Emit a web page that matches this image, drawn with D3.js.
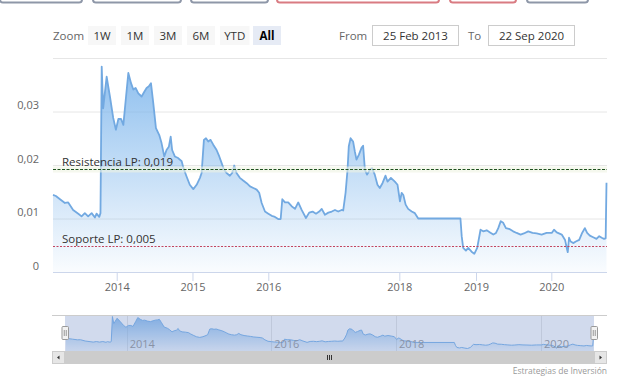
<!DOCTYPE html>
<html>
<head>
<meta charset="utf-8">
<script src="https://d3js.org/d3.v7.min.js"></script>
<style>
  body { margin: 0; background: #fff; }
  svg { display: block; font-family: "Open Sans", sans-serif; }
</style>
</head>
<body>
<svg id="chart" width="628" height="387"></svg>
<script>
'use strict';

/*
    price chart with navigator, support / resistance levels
*/

var dates = [
    '2013-02-25', '2013-03-11', '2013-03-31', '2013-04-24', '2013-05-10', '2013-06-03', '2013-06-28', '2013-07-14',
    '2013-07-30', '2013-08-15', '2013-09-01', '2013-09-17', '2013-09-25', '2013-10-08', '2013-10-14', '2013-10-20',
    '2013-10-27', '2013-11-13', '2013-11-29', '2013-12-15', '2013-12-28', '2014-01-09', '2014-01-22', '2014-02-02',
    '2014-02-15', '2014-02-26', '2014-03-11', '2014-03-22', '2014-04-02', '2014-04-15', '2014-05-01', '2014-05-14',
    '2014-05-25', '2014-06-05', '2014-06-15', '2014-06-26', '2014-07-09', '2014-07-25', '2014-08-05', '2014-08-18',
    '2014-08-29', '2014-09-09', '2014-09-18', '2014-09-25', '2014-10-08', '2014-10-24', '2014-11-10', '2014-11-18',
    '2014-12-03', '2014-12-19', '2015-01-05', '2015-01-21', '2015-02-06', '2015-02-14', '2015-02-25', '2015-03-07',
    '2015-03-18', '2015-03-29', '2015-04-11', '2015-04-27', '2015-05-10', '2015-05-21', '2015-06-01', '2015-06-14',
    '2015-06-30', '2015-07-11', '2015-07-21', '2015-08-01', '2015-08-17', '2015-09-02', '2015-09-19', '2015-10-05',
    '2015-10-21', '2015-11-06', '2015-11-18', '2015-11-30', '2015-12-16', '2016-01-01', '2016-01-20', '2016-02-07',
    '2016-02-25', '2016-03-10', '2016-03-19', '2016-04-03', '2016-04-21', '2016-05-10', '2016-05-29', '2016-06-16',
    '2016-07-05', '2016-07-29', '2016-08-16', '2016-09-04', '2016-09-23', '2016-10-11', '2016-10-25', '2016-11-12',
    '2016-12-01', '2016-12-20', '2017-01-07', '2017-01-25', '2017-02-13', '2017-02-22', '2017-03-07', '2017-03-18',
    '2017-03-25', '2017-04-04', '2017-04-18', '2017-04-28', '2017-05-07', '2017-05-20', '2017-06-04', '2017-06-13',
    '2017-06-23', '2017-07-05', '2017-07-21', '2017-08-02', '2017-08-17', '2017-09-01', '2017-09-14', '2017-09-29',
    '2017-10-16', '2017-10-27', '2017-11-15', '2017-12-07', '2017-12-22', '2018-01-04', '2018-01-12', '2018-01-20',
    '2018-01-31', '2018-02-12', '2018-03-01', '2018-03-16', '2018-04-01', '2018-10-19', '2018-10-25', '2018-11-01',
    '2018-11-14', '2018-11-25', '2018-12-11', '2018-12-24', '2019-01-07', '2019-01-23', '2019-02-05', '2019-02-22',
    '2019-03-10', '2019-03-26', '2019-04-08', '2019-04-19', '2019-05-01', '2019-05-13', '2019-05-26', '2019-06-14',
    '2019-06-30', '2019-07-17', '2019-08-05', '2019-08-21', '2019-09-11', '2019-10-02', '2019-10-22', '2019-11-15',
    '2019-12-09', '2020-01-03', '2020-01-14', '2020-01-27', '2020-02-20', '2020-03-07', '2020-03-15', '2020-03-20',
    '2020-03-26', '2020-04-03', '2020-04-15', '2020-04-28', '2020-05-14', '2020-05-28', '2020-06-10', '2020-06-21',
    '2020-07-04', '2020-07-20', '2020-08-05', '2020-08-18', '2020-08-30', '2020-09-10', '2020-09-18', '2020-09-22'
];

var prices = [
    0.0144, 0.0142, 0.0136, 0.0129, 0.0130, 0.0116, 0.0109, 0.0104,
    0.0110, 0.0104, 0.0110, 0.0102, 0.0109, 0.0103, 0.0110, 0.0384,
    0.0306, 0.0365, 0.0328, 0.0288, 0.0266, 0.0286, 0.0286, 0.0275,
    0.0328, 0.0372, 0.0353, 0.0341, 0.0344, 0.0334, 0.0328, 0.0337,
    0.0344, 0.0347, 0.0353, 0.0316, 0.0269, 0.0256, 0.0241, 0.0216,
    0.0228, 0.0234, 0.0253, 0.0228, 0.0216, 0.0213, 0.0207, 0.0195,
    0.0179, 0.0163, 0.0155, 0.0163, 0.0176, 0.0185, 0.0247, 0.0250,
    0.0244, 0.0247, 0.0238, 0.0228, 0.0216, 0.0204, 0.0192, 0.0185,
    0.0180, 0.0185, 0.0199, 0.0185, 0.0176, 0.0171, 0.0166, 0.0160,
    0.0157, 0.0154, 0.0148, 0.0129, 0.0113, 0.0109, 0.0105, 0.0103,
    0.0099, 0.0099, 0.0136, 0.0130, 0.0130, 0.0123, 0.0118, 0.0130,
    0.0116, 0.0101, 0.0111, 0.0113, 0.0109, 0.0113, 0.0118, 0.0107,
    0.0111, 0.0113, 0.0116, 0.0113, 0.0116, 0.0115, 0.0148, 0.0191,
    0.0235, 0.0250, 0.0244, 0.0225, 0.0210, 0.0219, 0.0232, 0.0236,
    0.0191, 0.0182, 0.0191, 0.0194, 0.0182, 0.0163, 0.0157, 0.0166,
    0.0180, 0.0169, 0.0176, 0.0169, 0.0163, 0.0132, 0.0148, 0.0144,
    0.0126, 0.0118, 0.0113, 0.0110, 0.0100, 0.0100, 0.0067, 0.0045,
    0.0040, 0.0045, 0.0038, 0.0034, 0.0045, 0.0079, 0.0076, 0.0078,
    0.0074, 0.0070, 0.0073, 0.0082, 0.0095, 0.0092, 0.0082, 0.0080,
    0.0076, 0.0073, 0.0070, 0.0072, 0.0076, 0.0073, 0.0072, 0.0070,
    0.0073, 0.0073, 0.0079, 0.0074, 0.0070, 0.0060, 0.0045, 0.0037,
    0.0064, 0.0057, 0.0054, 0.0057, 0.0060, 0.0073, 0.0082, 0.0073,
    0.0068, 0.0065, 0.0062, 0.0067, 0.0064, 0.0062, 0.0063, 0.0167
];

var yTicks = [0, 0.01, 0.02, 0.03, 0.04];
var xTickYears = [2014, 2015, 2016, 2018, 2019, 2020];
var navTickYears = [2014, 2016, 2018, 2020];
var zoomButtons = ['1W', '1M', '3M', '6M', 'YTD', 'All'];
var levelNames = ['Resistencia LP', 'Soporte LP'];
var levelValues = [0.0193, 0.0048];
var rangeFrom = '25 Feb 2013';
var rangeTo = '22 Sep 2020';
var creditText = 'Estrategias de Inversión';

var svg = d3.select('#chart');
var parseDate = d3.timeParse('%Y-%m-%d');
var esLocale = d3.formatLocale({ decimal: ',', thousands: '.', grouping: [3], currency: ['', ' €'] });
var fmtTick = esLocale.format('.2~f');
var fmtLevel = esLocale.format('.3f');

var data = dates.map(function(d, i) {
    return { date: parseDate(d), value: prices[i] };
});

// stock axis is ordinal: the missing stretch in 2016-2017 is squeezed, so use a piecewise time scale
var breaks = [data[0].date]
    .concat(xTickYears.map(function(yr) { return new Date(yr, 0, 1); }))
    .concat([data[data.length - 1].date]);
var breakFrac = [0, 0.1151, 0.2520, 0.3890, 0.6257, 0.7642, 0.9003, 1];

function pieceScale(x0, x1) {
    return d3.scaleTime()
        .domain(breaks)
        .range(breakFrac.map(function(f) { return x0 + f * (x1 - x0); }));
}

var plotL = 53, plotR = 606.5, plotB = 272, plotT = 58;
var x = pieceScale(plotL, plotR);
var y = d3.scaleLinear().domain([0, 0.04]).range([plotB, plotT]);

/* bits of the page buttons above the chart */
var topBits = [[0, 82, '#8e97a8'], [93, 181, '#8e97a8'], [191, 268, '#8e97a8'],
               [277, 439, '#d97b82'], [450, 516, '#d97b82'], [527, 588, '#8e97a8']];
svg.selectAll('rect.topbit').data(topBits).enter().append('rect')
    .attr('class', 'topbit')
    .attr('x', function(d) { return d[0]; })
    .attr('y', -6)
    .attr('width', function(d) { return d[1] - d[0]; })
    .attr('height', 8.5)
    .attr('rx', 3)
    .attr('fill', '#fff')
    .attr('stroke', function(d) { return d[2]; })
    .attr('stroke-width', 2);

/* range selector */
svg.append('text')
    .attr('x', 53).attr('y', 39.5)
    .attr('font-size', 11.5).attr('fill', '#666')
    .text('Zoom');

var btn = svg.selectAll('g.btn').data(zoomButtons).enter().append('g')
    .attr('class', 'btn')
    .attr('transform', function(d, i) { return 'translate(' + (88 + i * 33) + ',26)'; });
btn.append('rect')
    .attr('width', function(d) { return d === 'YTD' ? 29.5 : 28; })
    .attr('height', 19)
    .attr('fill', function(d) { return d === 'All' ? '#e6ebf5' : '#f7f7f7'; });
btn.append('text')
    .attr('x', function(d) { return d === 'YTD' ? 14.75 : 14; })
    .attr('y', 13.5)
    .attr('text-anchor', 'middle')
    .attr('font-size', 11.5)
    .attr('font-weight', function(d) { return d === 'All' ? 'bold' : 'normal'; })
    .attr('fill', function(d) { return d === 'All' ? '#000' : '#333'; })
    .text(function(d) { return d; });

svg.append('text').attr('x', 339).attr('y', 39.5)
    .attr('font-size', 11.5).attr('fill', '#666').text('From');
svg.append('text').attr('x', 468).attr('y', 39.5)
    .attr('font-size', 11.5).attr('fill', '#666').text('To');
[[372.5, rangeFrom], [488.5, rangeTo]].forEach(function(b) {
    svg.append('rect')
        .attr('x', b[0]).attr('y', 25.5).attr('width', 86).attr('height', 20)
        .attr('fill', '#fff').attr('stroke', '#cccccc');
    svg.append('text')
        .attr('x', b[0] + 43).attr('y', 39.5)
        .attr('text-anchor', 'middle').attr('font-size', 11.5).attr('fill', '#333')
        .text(b[1]);
});

/* y grid + labels */
var yAxis = d3.axisLeft(y)
    .tickValues(yTicks)
    .tickSize(-(607 - plotL))
    .tickPadding(14)
    .tickFormat(function(d) { return d === 0.04 ? '' : fmtTick(d); });
var gy = svg.append('g').attr('transform', 'translate(' + plotL + ',0)').call(yAxis);
gy.select('.domain').remove();
gy.selectAll('line').attr('stroke', '#e6e6e6');
gy.selectAll('text')
    .attr('dy', -3)
    .attr('fill', '#666')
    .attr('font-size', 11)
    .attr('font-family', '"Open Sans", sans-serif');

/* series */
var defs = svg.append('defs');
var grad = defs.append('linearGradient')
    .attr('id', 'fillMain')
    .attr('gradientUnits', 'userSpaceOnUse')
    .attr('x1', 0).attr('x2', 0).attr('y1', plotT).attr('y2', plotB);
grad.append('stop').attr('offset', 0).attr('stop-color', '#7cb5ec').attr('stop-opacity', 0.9);
grad.append('stop').attr('offset', 1).attr('stop-color', '#7cb5ec').attr('stop-opacity', 0.04);

var area = d3.area()
    .x(function(d) { return x(d.date); })
    .y0(plotB)
    .y1(function(d) { return y(d.value); });
var line = d3.line()
    .x(function(d) { return x(d.date); })
    .y(function(d) { return y(d.value); });

svg.append('path').datum(data).attr('d', area).attr('fill', 'url(#fillMain)');
svg.append('path').datum(data).attr('d', line)
    .attr('fill', 'none').attr('stroke', '#72a9e1').attr('stroke-width', 1.8)
    .attr('stroke-linejoin', 'round');

/* support / resistance */
var levelColors = ['#1f521f', '#c2445f'];
levelValues.forEach(function(v, i) {
    var ly = Math.round(y(v)) + 0.5;
    if (i === 0) {
        svg.append('rect').attr('x', plotL).attr('y', ly - 3).attr('width', 607 - plotL).attr('height', 6)
            .attr('fill', '#eef4e2').attr('opacity', 0.6);
    }
    svg.append('line')
        .attr('x1', plotL).attr('x2', 607).attr('y1', ly).attr('y2', ly)
        .attr('stroke', levelColors[i]).attr('stroke-width', 1)
        .attr('stroke-dasharray', i === 0 ? '3,1.5' : '2,1.5');
    svg.append('text')
        .attr('x', 62).attr('y', ly - 3.5)
        .attr('font-size', 11.5).attr('fill', '#333')
        .text(levelNames[i] + ': ' + fmtLevel(v));
});

/* x axis */
var xAxis = d3.axisBottom(x)
    .tickValues(xTickYears.map(function(yr) { return new Date(yr, 0, 1); }))
    .tickFormat(d3.timeFormat('%Y'))
    .tickSizeInner(9)
    .tickSizeOuter(0);
var gx = svg.append('g').attr('transform', 'translate(0,' + plotB + ')').call(xAxis);
gx.select('.domain').remove();
gx.selectAll('line').attr('stroke', '#ccd6eb');
gx.selectAll('text')
    .attr('y', 19).attr('dy', 0)
    .attr('fill', '#666').attr('font-size', 11)
    .attr('font-family', '"Open Sans", sans-serif');
svg.append('line')
    .attr('x1', plotL).attr('x2', 607).attr('y1', plotB + 0.5).attr('y2', plotB + 0.5)
    .attr('stroke', '#ccd6eb');

/* navigator */
var navT = 315, navB = 351;
var nx = pieceScale(66, 593.5);
var ny = d3.scaleLinear().domain(d3.extent(prices)).range([348.5, 316.5]);

svg.selectAll('line.navgrid').data(navTickYears).enter().append('line')
    .attr('class', 'navgrid')
    .attr('x1', function(d) { return Math.round(nx(new Date(d, 0, 1))) + 0.5; })
    .attr('x2', function(d) { return Math.round(nx(new Date(d, 0, 1))) + 0.5; })
    .attr('y1', navT).attr('y2', navB)
    .attr('stroke', '#e6e6e6');

var ngrad = defs.append('linearGradient')
    .attr('id', 'fillNav')
    .attr('gradientUnits', 'userSpaceOnUse')
    .attr('x1', 0).attr('x2', 0).attr('y1', navT).attr('y2', navB);
ngrad.append('stop').attr('offset', 0).attr('stop-color', '#7cb5ec').attr('stop-opacity', 0.9);
ngrad.append('stop').attr('offset', 1).attr('stop-color', '#7cb5ec').attr('stop-opacity', 0.1);

var navArea = d3.area()
    .x(function(d) { return nx(d.date); })
    .y0(navB)
    .y1(function(d) { return ny(d.value); });
var navLine = d3.line()
    .x(function(d) { return nx(d.date); })
    .y(function(d) { return ny(d.value); });
svg.append('path').datum(data).attr('d', navArea).attr('fill', 'url(#fillNav)');
svg.append('path').datum(data).attr('d', navLine)
    .attr('fill', 'none').attr('stroke', '#7cb5ec').attr('stroke-width', 1);

svg.selectAll('text.navlab').data(navTickYears).enter().append('text')
    .attr('class', 'navlab')
    .attr('x', function(d) { return nx(new Date(d, 0, 1)) + 3; })
    .attr('y', 347.5)
    .attr('font-size', 11).attr('fill', '#999')
    .text(function(d) { return d; });

svg.append('rect')
    .attr('x', 65).attr('y', navT).attr('width', 594 - 65).attr('height', navB - navT)
    .attr('fill', 'rgba(102,133,194,0.3)');
svg.append('line')
    .attr('x1', 52).attr('x2', 607).attr('y1', navT + 0.5).attr('y2', navT + 0.5)
    .attr('stroke', '#cccccc');

/* scrollbar */
svg.append('rect').attr('x', 52).attr('y', navB).attr('width', 555).attr('height', 13).attr('fill', '#f2f2f2');
svg.append('rect').attr('x', 65).attr('y', navB).attr('width', 594 - 65).attr('height', 13).attr('fill', '#cccccc');
[52, 594].forEach(function(bx, i) {
    svg.append('rect').attr('x', bx + 0.5).attr('y', navB + 0.5).attr('width', 12).attr('height', 12)
        .attr('fill', '#e6e6e6').attr('stroke', '#cccccc');
    var cx = bx + 6.5, cy = navB + 6.5;
    var pts = i === 0
        ? [[cx - 1.5, cy], [cx + 1, cy - 2], [cx + 1, cy + 2]]
        : [[cx + 1.5, cy], [cx - 1, cy - 2], [cx - 1, cy + 2]];
    svg.append('polygon').attr('points', pts.join(' ')).attr('fill', '#333');
});
[-2, 0, 2].forEach(function(dx) {
    svg.append('line')
        .attr('x1', 329.5 + dx).attr('x2', 329.5 + dx)
        .attr('y1', navB + 4).attr('y2', navB + 9)
        .attr('stroke', '#333').attr('stroke-width', 1);
});

/* navigator handles */
[65, 594].forEach(function(hx) {
    svg.append('rect')
        .attr('x', hx - 3).attr('y', 326.5).attr('width', 6.5).attr('height', 13)
        .attr('rx', 1)
        .attr('fill', '#f2f2f2').attr('stroke', '#999');
    [-1, 1].forEach(function(dx) {
        svg.append('line')
            .attr('x1', hx + dx + 0.25).attr('x2', hx + dx + 0.25)
            .attr('y1', 330).attr('y2', 336)
            .attr('stroke', '#999');
    });
});

svg.append('text')
    .attr('x', 607).attr('y', 373.5)
    .attr('text-anchor', 'end')
    .attr('font-size', 8.5).attr('fill', '#999')
    .text(creditText);
</script>
</body>
</html>
